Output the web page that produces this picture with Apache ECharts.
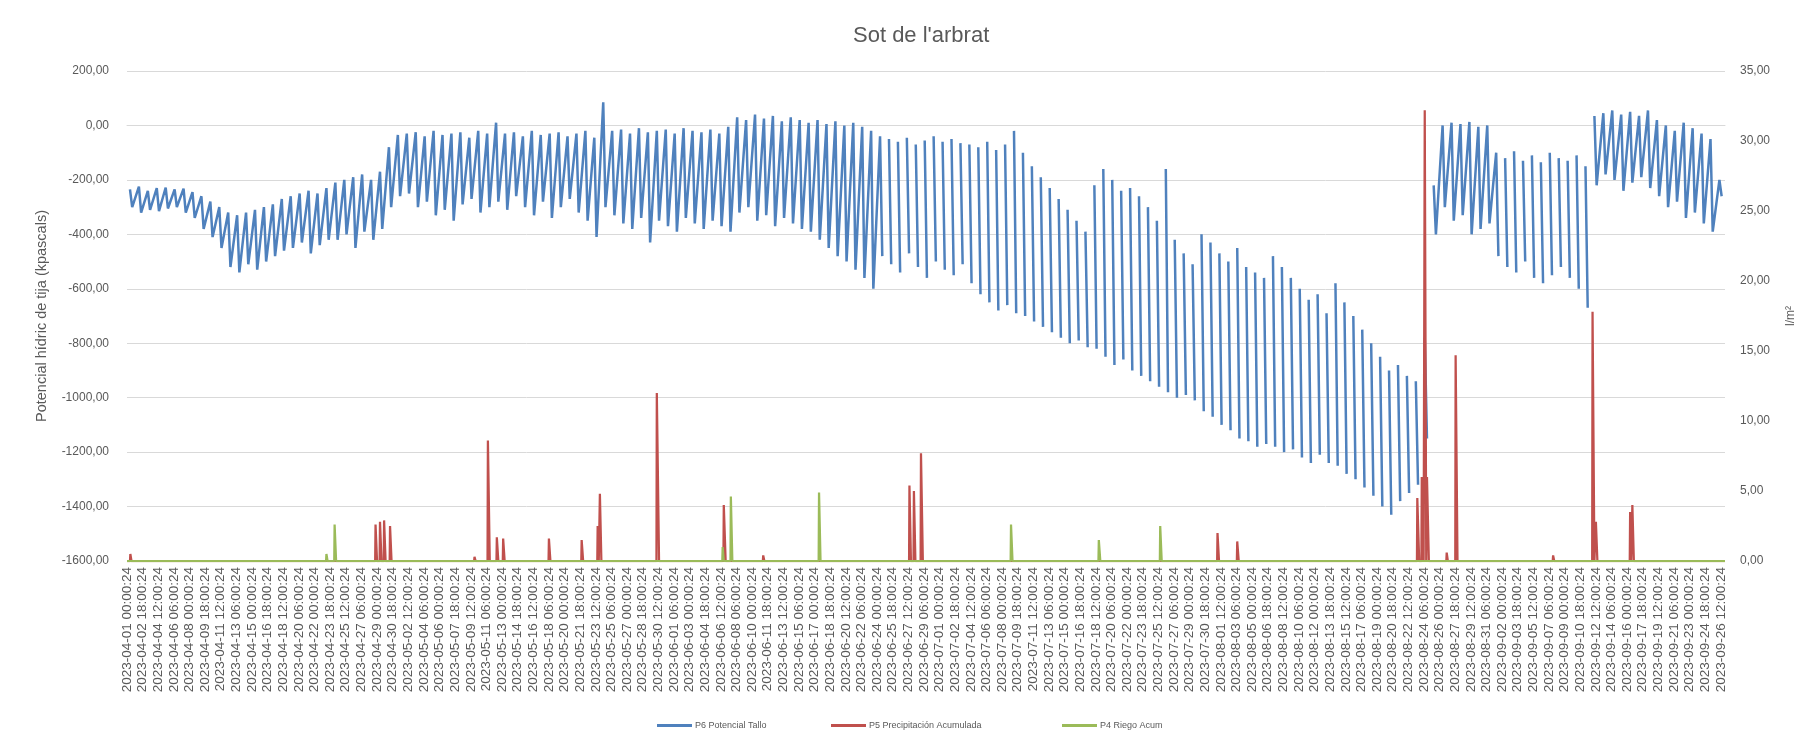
<!DOCTYPE html>
<html>
<head>
<meta charset="utf-8">
<title>Sot de l'arbrat</title>
<script src="https://cdn.jsdelivr.net/npm/echarts@6/dist/echarts.min.js"></script>
<style>
html,body{margin:0;padding:0;background:#fff;}
#grafic{width:1815px;height:731px;}
</style>
</head>
<body>
<div id="grafic"></div>
<script>
// lectures horàries des de l'1 d'abril de 2023
const nDies = 179;

// P6 potencial de tija: valor alt (matinada) i baix (tarda) de cada dia, kPa
const potMax = [
  -235,-225,-240,-230,-228,-235,-232,-245,
  -260,-280,-300,-320,-330,-320,-310,-300,
  -290,-270,-260,-250,-240,-250,-230,
  -210,-200,-190,-180,-200,-170,
  -80,-35,
  -30,-25,-40,-20,-35,-30,-25,-45,-20,-30,10,-30,-25,-40,-20,-35,-30,-25,-40,-30,-20,-45,
  85,
  -20,-15,-30,-10,-25,-20,-15,-30,-10,-20,-25,-15,-30,-5,
  30,20,40,25,35,15,30,20,
  10,20,5,15,0,10,-5,-20,
  -40,-50,-60,-45,-70,-55,-40,-60,-50,-65,-70,
  -80,-60,-90,-70,-20,
  -100,-150,-190,-230,-270,-310,-350,-390,
  -220,-160,-200,-240,-230,
  -260,-300,-350,-160,-420,-470,-510,
  -400,-430,-470,-500,-450,-520,-540,-560,
  -480,-520,-560,-600,-640,-620,-690,
  -580,-650,-700,-750,-800,-850,-900,-880,-920,-940,
  -780,
  -220,
  0,10,5,13,-5,0,
  -100,-120,-95,-130,-110,-135,-100,-120,-130,-110,-150,
  35,45,55,40,50,35,55,
  20,0,-20,10,-10,-30,-50,-200
];
const potMin = [
  -300,-320,-310,-315,-305,-300,-320,-340,
  -380,-410,-450,-520,-540,-510,-530,-500,
  -480,-460,-450,-430,-470,-440,-420,
  -420,-400,-450,-390,-420,-380,
  -300,-260,
  -250,-300,-280,-330,-310,-350,-290,-270,-320,-300,-280,-310,-260,-300,-330,-280,-340,-300,-270,-320,-350,-410,
  -300,
  -330,-360,-380,-340,-430,-350,-370,-390,-340,-360,-380,-350,-370,-390,
  -320,-300,-350,-330,-370,-340,-360,-380,
  -390,-420,-450,-480,-500,-530,-560,-600,
  -480,-510,-540,-470,-520,-560,-500,-530,-550,-510,-580,
  -620,-650,-680,-660,-690,
  -700,-720,-740,-760,-780,-800,-790,-815,
  -820,-850,-880,-860,-900,
  -920,-940,-960,-980,-1000,-990,-1010,
  -1050,-1070,-1100,-1120,-1150,-1160,-1180,-1170,
  -1180,-1200,-1190,-1220,-1240,-1210,-1240,
  -1250,-1280,-1300,-1330,-1360,-1400,-1430,-1380,-1350,-1320,
  -1150,
  -400,
  -300,-350,-330,-400,-380,-360,
  -480,-520,-540,-500,-560,-580,-550,-520,-560,-600,-670,
  -220,-180,-200,-240,-210,-190,-230,
  -260,-300,-280,-340,-320,-360,-390,-260
];
// trams de dies amb la recuperació nocturna sense dades
const tramsBuits = [[84, 145], [153, 163]];

// P5 precipitació acumulada: [dia hora, l/m2, hores]
const pluja = [
  ['04-01 09', 0.5, 3],
  ['04-28 20', 2.6, 4], ['04-29 08', 2.8, 4], ['04-29 19', 2.9, 4], ['04-30 11', 2.5, 4],
  ['05-09 22', 0.3, 3],
  ['05-11 10', 8.6, 5],
  ['05-12 10', 1.7, 4], ['05-13 03', 1.6, 4],
  ['05-18 06', 1.6, 4],
  ['05-21 22', 1.5, 4],
  ['05-23 17', 2.5, 3], ['05-23 23', 4.8, 4],
  ['05-30 08', 12.0, 6],
  ['06-06 20', 4.0, 5],
  ['06-11 06', 0.4, 3],
  ['06-27 15', 5.4, 4], ['06-28 03', 5.0, 4], ['06-28 22', 7.7, 5],
  ['08-01 03', 2.0, 4],
  ['08-03 08', 1.4, 4],
  ['08-23 12', 4.5, 5], ['08-24 00', 6.0, 5], ['08-24 08', 32.2, 4], ['08-24 14', 6.0, 5],
  ['08-26 19', 0.6, 3],
  ['08-27 19', 14.7, 5],
  ['09-07 17', 0.4, 3],
  ['09-12 03', 17.8, 5], ['09-12 12', 2.8, 4],
  ['09-16 08', 3.5, 3], ['09-16 14', 4.0, 4]
];

// P4 reg acumulat: [dia hora, l/m2, hores]
const reg = [
  ['04-23 08', 0.5, 3], ['04-24 06', 2.6, 4],
  ['06-06 17', 1.0, 3], ['06-07 15', 4.6, 4],
  ['06-17 12', 4.9, 4],
  ['07-09 00', 2.6, 4],
  ['07-18 20', 1.5, 4],
  ['07-25 17', 2.5, 4]
];

const t0 = Date.UTC(2023, 3, 1);
function idxHora(s) {
  const [md, h] = s.split(' ');
  const t = Date.UTC(2023, +md.slice(0, 2) - 1, +md.slice(3, 5));
  return Math.round((t - t0) / 3600000) + (+h);
}

// etiquetes horàries
const categories = [];
for (let i = 0; i < nDies * 24; i++) {
  const d = new Date(t0 + i * 3600000);
  categories.push(d.toISOString().slice(0, 10) + ' ' + String(d.getUTCHours()).padStart(2, '0') + ':00:24');
}

const dadesP6 = [];
potMax.forEach((v, d) => {
  dadesP6.push([d * 24 + 8, v]);
  dadesP6.push([d * 24 + 14, potMin[d]]);
  if (tramsBuits.some(t => d >= t[0] && d <= t[1])) dadesP6.push([d * 24 + 20, '-']);
});

function serieEvents(ev) {
  const out = [[0, 0]];
  ev.forEach(([h, v, n]) => {
    const i = idxHora(h);
    out.push([i - 1, 0], [i, v], [i + n - 1, v], [i + n, 0]);
  });
  out.push([nDies * 24 - 1, 0]);
  return out;
}

const fmt = v => v.toFixed(2).replace('.', ',');
const colors = ['#4F81BD', '#C0504D', '#9BBB59'];
const noms = ['P6 Potencial Tallo', 'P5 Precipitación Acumulada', 'P4 Riego Acum'];
const legendLeft = [652, 826, 1057];

let chart = echarts.init(document.getElementById('grafic'));
let option = {
  animation: false,
  textStyle: { fontFamily: 'Liberation Sans, sans-serif' },
  title: {
    text: "Sot de l'arbrat",
    left: 848,
    top: 20,
    textStyle: { fontSize: 22, fontWeight: 'normal', color: '#595959' }
  },
  legend: noms.map((n, i) => ({
    data: [n],
    left: legendLeft[i],
    top: 716,
    icon: 'rect',
    itemWidth: 35,
    itemHeight: 3,
    itemGap: 4,
    textStyle: { fontSize: 9, color: '#595959', padding: [0, 0, 0, -2] }
  })),
  grid: { left: 127, right: 90, top: 71, bottom: 170 },
  xAxis: {
    type: 'category',
    data: categories,
    boundaryGap: false,
    axisLine: { lineStyle: { color: '#D9D9D9' } },
    axisTick: { show: false },
    axisLabel: { interval: 41, rotate: 90, fontSize: 13.5, color: '#595959', margin: 6 }
  },
  yAxis: [
    {
      type: 'value',
      min: -1600,
      max: 200,
      interval: 200,
      name: 'Potencial hídric de tija (kpascals)',
      nameLocation: 'middle',
      nameRotate: 90,
      nameGap: 78,
      nameTextStyle: { fontSize: 14.5, color: '#595959' },
      axisLine: { show: false },
      axisTick: { show: false },
      axisLabel: { formatter: fmt, fontSize: 12, color: '#595959', margin: 18 },
      splitLine: { lineStyle: { color: '#D9D9D9' } }
    },
    {
      type: 'value',
      min: 0,
      max: 35,
      interval: 5,
      name: 'l/m²',
      nameLocation: 'middle',
      nameRotate: 90,
      nameGap: 60,
      nameTextStyle: { fontSize: 12, color: '#595959' },
      axisLine: { show: false },
      axisTick: { show: false },
      axisLabel: { formatter: fmt, fontSize: 12, color: '#595959', margin: 15 },
      splitLine: { show: false }
    }
  ],
  series: noms.map((n, i) => ({
    name: n,
    type: 'line',
    yAxisIndex: i === 0 ? 0 : 1,
    data: i === 0 ? dadesP6 : serieEvents(i === 1 ? pluja : reg),
    symbol: 'none',
    connectNulls: false,
    lineStyle: { width: i === 0 ? 2.5 : 2.25, color: colors[i] },
    itemStyle: { color: colors[i] }
  }))
};
chart.setOption(option);
</script>
</body>
</html>
